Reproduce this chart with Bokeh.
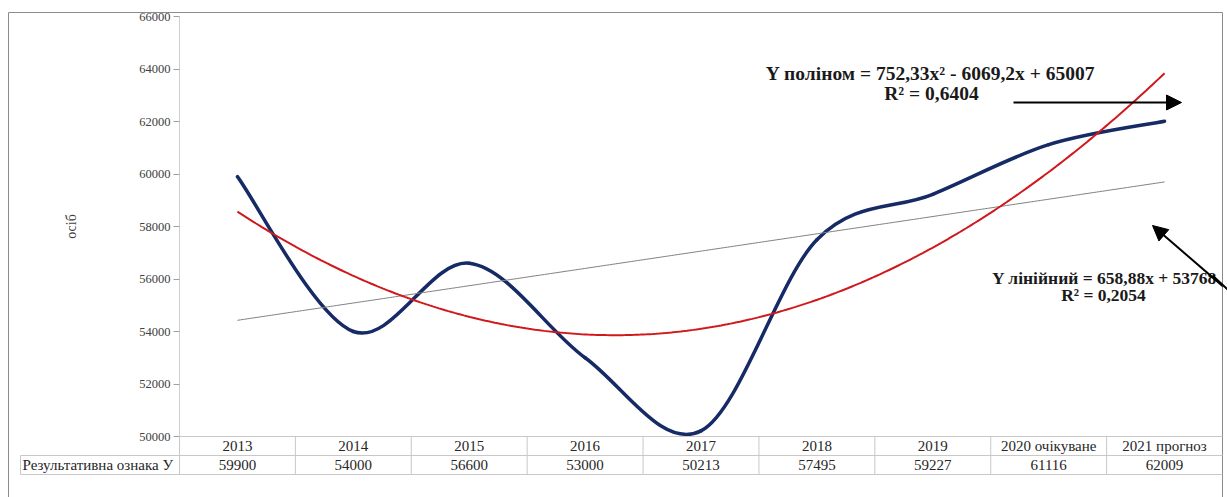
import numpy as np
from bokeh.plotting import figure
from bokeh.models import (Range1d, ColumnDataSource, Label, Arrow,
                          NormalHead, FixedTicker, NumeralTickFormatter)
from bokeh.core.properties import value
from bokeh.embed import file_html
from bokeh.resources import INLINE

# ---------------- data ----------------
categories = ["2013", "2014", "2015", "2016", "2017", "2018", "2019",
              "2020 очікуване", "2021 прогноз"]
values = [59900, 54000, 56600, 53000, 50213, 57495, 59227, 61116, 62009]
row_label = "Результативна ознака У"
y_ticks = [50000, 52000, 54000, 56000, 58000, 60000, 62000, 64000, 66000]
y_title = "осіб"
poly_eq = "Y поліном = 752,33x² - 6069,2x + 65007"
poly_r2 = "R² = 0,6404"
lin_eq = "Y лінійний = 658,88x + 53768"
lin_r2 = "R² = 0,2054"

# ---------------- layout (pixels) ----------------
W, H = 1227, 497
FL, FR, FT, FB = 179, 1222, 16, 436      # plot frame
ROW = 19                                  # table row height
HL = 20                                   # table header left edge
BL, BT = 8, 12                            # outer border left / top
N = len(categories)
CELL = (FR - FL) / N
Y0, Y1 = y_ticks[0], y_ticks[-1]

FONT = "Liberation Serif"
NAVY = "#162a66"
RED = "#d0191c"
GRAY = "#808080"
GRID = "#c8c8c8"
BORDER = "#8c8c8c"


def xd(px):
    return (px - FL) / CELL


def yd(py):
    return Y1 - (py - FT) * (Y1 - Y0) / (FB - FT)


def yt(py):
    return (FB - py) / ROW


p = figure(width=W, height=H, x_range=Range1d(0, N), y_range=Range1d(Y0, Y1),
           x_axis_type=None, output_backend="svg", toolbar_location=None,
           min_border_left=FL, min_border_right=W - FR,
           min_border_top=FT, min_border_bottom=H - FB)
p.extra_y_ranges = {"table": Range1d(0, (FB - FT) / ROW)}
p.outline_line_color = None
p.ygrid.grid_line_color = None
p.background_fill_color = "white"
p.border_fill_color = "white"

# y axis
ax = p.yaxis[0]
ax.ticker = FixedTicker(ticks=y_ticks)
ax.formatter = NumeralTickFormatter(format="0")
ax.major_label_text_font = FONT
ax.major_label_text_font_size = "12.5px"
ax.major_label_text_color = "#404040"
ax.major_label_standoff = 3
ax.axis_line_color = "#cfcfcf"
ax.major_tick_line_color = "#a0a0a0"
ax.major_tick_out = 6
ax.major_tick_in = 0
ax.minor_tick_out = 0
ax.minor_tick_in = 0
ax.axis_label = y_title
ax.axis_label_text_font = FONT
ax.axis_label_text_font_size = "14px"
ax.axis_label_text_font_style = "normal"
ax.axis_label_text_color = "#404040"
ax.axis_label_standoff = 57

# ---------------- series ----------------
xs = np.arange(N) + 0.5
ys = np.array(values, dtype=float)
P = np.column_stack([xs, ys])
Pe = np.vstack([P[0], P, P[-1]])
seg = dict(x0=[], y0=[], x1=[], y1=[], cx0=[], cy0=[], cx1=[], cy1=[])
for i in range(N - 1):
    p0, p1, p2, p3 = Pe[i], Pe[i + 1], Pe[i + 2], Pe[i + 3]
    c1 = p1 + (p2 - p0) / 6.0
    c2 = p2 - (p3 - p1) / 6.0
    seg["x0"].append(p1[0]); seg["y0"].append(p1[1])
    seg["x1"].append(p2[0]); seg["y1"].append(p2[1])
    seg["cx0"].append(c1[0]); seg["cy0"].append(c1[1])
    seg["cx1"].append(c2[0]); seg["cy1"].append(c2[1])
p.bezier(x0="x0", y0="y0", x1="x1", y1="y1", cx0="cx0", cy0="cy0",
         cx1="cx1", cy1="cy1", source=ColumnDataSource(seg),
         line_color=NAVY, line_width=3.5, line_cap="round")

# trend lines (least squares fits of the series)
xi = np.arange(1, N + 1)
lin = np.polyfit(xi, ys, 1)
quad = np.polyfit(xi, ys, 2)
xf = np.linspace(1, N, 300)
p.line(xf - 0.5, np.polyval(lin, xf), line_color=GRAY, line_width=1)
p.line(xf - 0.5, np.polyval(quad, xf), line_color=RED, line_width=2)

# ---------------- data table under the chart ----------------
sx0, sy0, sx1, sy1 = [], [], [], []


def segm(a, b, c, d):
    sx0.append(a); sy0.append(b); sx1.append(c); sy1.append(d)


segm(0, 0, N, 0)
segm(xd(HL), -1, N, -1)
segm(xd(HL), -2, N, -2)
segm(xd(HL), -1, xd(HL), -2)
for i in range(N):
    segm(i, 0, i, -2)
p.segment(x0=sx0, y0=sy0, x1=sx1, y1=sy1, y_range_name="table", level="overlay",
          line_color=GRID, line_width=1)

# outer chart border
bx0 = [xd(BL), xd(BL), N]
by0 = [yt(BT), yt(H + 5), yt(H + 5)]
bx1 = [N, xd(BL), N]
by1 = [yt(BT), yt(BT), yt(BT)]
p.segment(x0=bx0, y0=by0, x1=bx1, y1=by1, y_range_name="table", level="guide",
          line_color=BORDER, line_width=1)

tx = list(xs) + list(xs)
ty = [-0.5] * N + [-1.5] * N
tt = categories + [str(v) for v in values]
p.text(x=tx, y=ty, text=tt, y_range_name="table", level="overlay",
       text_align="center", text_baseline="middle",
       text_font=value(FONT), text_font_size="15px", text_color="#262626")
p.text(x=[xd(HL + 2)], y=[-1.5], text=[row_label], y_range_name="table",
       level="overlay", text_align="left", text_baseline="middle",
       text_font=value(FONT), text_font_size="15px", text_color="#262626")

# ---------------- equations and arrows ----------------
for txt, cx, by, fs in [(poly_eq, 930, 73, "19.5px"), (poly_r2, 931, 93, "19.5px"),
                        (lin_eq, 1104, 277, "17.5px"), (lin_r2, 1103, 294, "17.5px")]:
    p.add_layout(Label(x=xd(cx), y=yd(by), text=txt, text_align="center",
                       text_baseline="alphabetic", text_font=FONT,
                       text_font_size=fs, text_font_style="bold",
                       text_color="#1a1a1a"))

p.add_layout(Arrow(x_start=xd(1013), y_start=yd(102), x_end=xd(1181), y_end=yd(102),
                   end=NormalHead(size=15, fill_color="black", line_color="black"),
                   line_color="black", line_width=2))
p.add_layout(Arrow(x_start=xd(1240), y_start=yd(301), x_end=xd(1152), y_end=yd(225),
                   end=NormalHead(size=15, fill_color="black", line_color="black"),
                   line_color="black", line_width=2))
# part of the second arrow's shaft that runs past the chart frame
p.segment(x0=[xd(1212)], y0=[yd(275)], x1=[xd(1240)], y1=[yd(301)], level="overlay",
          line_color="black", line_width=2)

open("out.html", "w").write(file_html(p, INLINE))
